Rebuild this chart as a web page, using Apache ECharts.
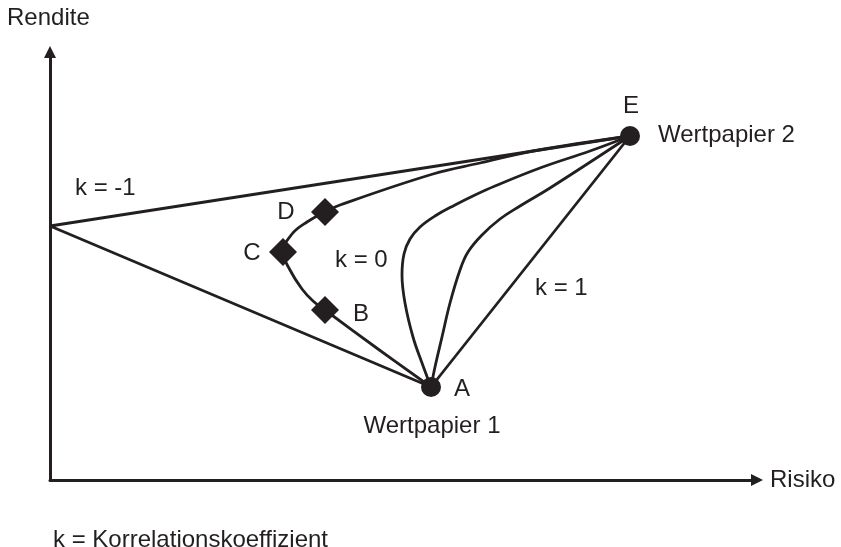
<!DOCTYPE html>
<html>
<head>
<meta charset="utf-8">
<title>Rendite / Risiko</title>
<script src="https://cdn.jsdelivr.net/npm/echarts@6/dist/echarts.min.js"></script>
<style>
  html, body { margin: 0; padding: 0; background: #fff; }
  #chart { width: 841px; height: 547px; }
</style>
</head>
<body>
<div id="chart"></div>
<script>
// Punkte [Risiko, Rendite] (schematisch)
var wertpapier1 = [381, 93];   // A
var wertpapier2 = [580, 344];  // E
var kMinus1 = [[381, 93], [0, 254], [580, 344]];
var k0 = [[381, 93], [328, 131], [275, 170], [263, 179], [252, 191], [240, 210], [233, 228],
  [242, 246], [257, 258], [275, 268], [290, 275], [383, 306], [430, 317], [483, 329], [580, 344]];
var kInnenLinks = [[381, 93], [372, 117], [363, 143], [355, 177], [352, 205], [354, 226], [360, 241],
  [370, 253], [385, 264], [405, 275], [425, 285], [445, 294], [490, 312], [540, 329], [580, 344]];
var kInnenRechts = [[381, 93], [385, 113], [392, 143], [400, 177], [410, 210], [418, 228], [432, 245],
  [450, 261], [470, 274], [500, 292], [580, 344]];
var k1 = [[381, 93], [580, 344]];
var portfolios = [[275, 170], [233, 228], [275, 268]]; // B, C, D
var texte = ['Rendite', 'Risiko', 'E', 'Wertpapier 2', 'k = -1', 'D', 'C', 'k = 0', 'B', 'A',
  'Wertpapier 1', 'k = 1', 'k = Korrelationskoeffizient'];

var farbe = '#231f20';
var schrift = '"Liberation Sans", Arial, Helvetica, sans-serif';

function linie(name, data, smooth) {
  return {
    name: name,
    type: 'line',
    data: data,
    smooth: smooth,
    symbol: 'none',
    lineStyle: { color: farbe, width: 2.8 },
    z: 2
  };
}

function text(t, x, y, align) {
  return {
    type: 'text',
    x: x,
    y: y,
    style: {
      text: t,
      fill: farbe,
      font: '24px ' + schrift,
      textAlign: align || 'left',
      textVerticalAlign: 'middle'
    }
  };
}

var myChart = echarts.init(document.getElementById('chart'));
var option = {
  animation: false,
  grid: { left: 50, top: 52, width: 707, height: 428, outerBoundsMode: 'none' },
  xAxis: {
    type: 'value', min: 0, max: 707,
    axisLine: { show: true, symbol: ['none', 'triangle'], symbolSize: [12, 12], lineStyle: { color: farbe, width: 3 } },
    axisTick: { show: false }, axisLabel: { show: false }, splitLine: { show: false }
  },
  yAxis: {
    type: 'value', min: 0, max: 428,
    axisLine: { show: true, symbol: ['none', 'triangle'], symbolSize: [12, 12], lineStyle: { color: farbe, width: 3 } },
    axisTick: { show: false }, axisLabel: { show: false }, splitLine: { show: false }
  },
  series: [
    linie('k = -1', kMinus1, false),
    linie('k = 0', k0, 0.4),
    linie('innen links', kInnenLinks, 0.4),
    linie('innen rechts', kInnenRechts, 0.4),
    linie('k = 1', k1, false),
    {
      type: 'scatter',
      data: [wertpapier1, wertpapier2],
      symbol: 'circle',
      symbolSize: 20,
      itemStyle: { color: farbe, opacity: 1 },
      z: 5
    },
    {
      type: 'scatter',
      data: portfolios,
      symbol: 'diamond',
      symbolSize: 28,
      itemStyle: { color: farbe, opacity: 1 },
      z: 5
    }
  ],
  graphic: [
    text(texte[0], 7, 18),
    text(texte[1], 770, 480),
    text(texte[2], 631, 106, 'center'),
    text(texte[3], 658, 135),
    text(texte[4], 75, 188),
    text(texte[5], 286, 212, 'center'),
    text(texte[6], 252, 253, 'center'),
    text(texte[7], 335, 260),
    text(texte[8], 361, 314, 'center'),
    text(texte[9], 462, 389, 'center'),
    text(texte[10], 432, 426, 'center'),
    text(texte[11], 535, 288),
    text(texte[12], 53, 540)
  ]
};
myChart.setOption(option);
</script>
</body>
</html>
